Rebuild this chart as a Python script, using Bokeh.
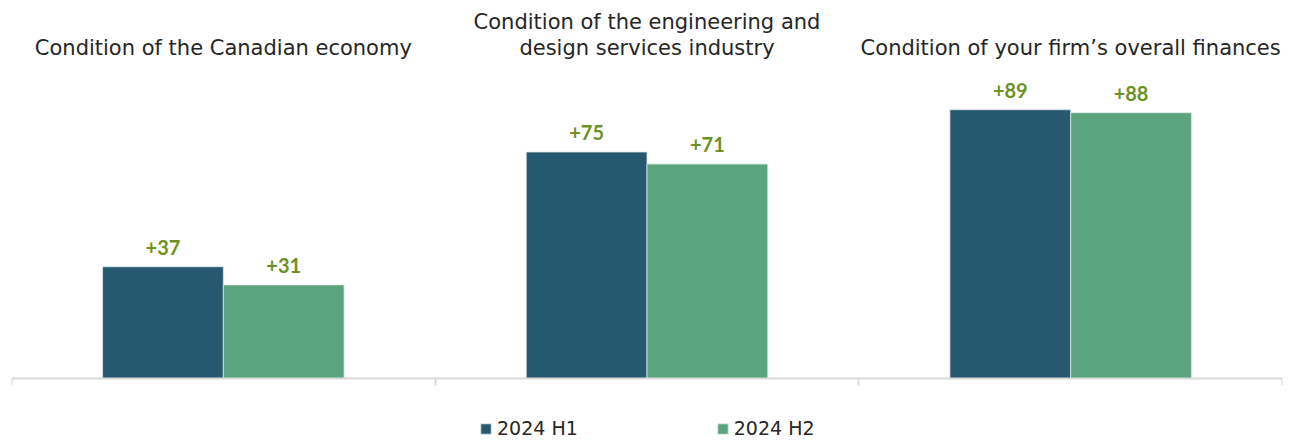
import numpy as np
from bokeh.plotting import figure
from bokeh.models import ColumnDataSource, Range1d, FixedTicker, Legend, LegendItem
from bokeh.core.properties import value
from bokeh.embed import file_html
from bokeh.resources import INLINE

# ---- data ----
categories = [
    "Condition of the Canadian economy",
    "Condition of the engineering and\ndesign services industry",
    "Condition of your firm\u2019s overall finances",
]
series_names = ["2024 H1", "2024 H2"]
h1_values = [37, 75, 89]
h2_values = [31, 71, 88]

# ---- style ----
COL_H1 = "#26596F"
COL_H2 = "#5AA57D"
COL_LABEL = "#6E9126"
COL_TEXT = "#262626"
FONT = "DejaVu Sans"
LABEL_FONT = "Lato"
BAR_W = 0.285
TITLE_Y = 105.3
PX_PER_UNIT = 3.02

idx = np.arange(len(categories))
centers = idx + 0.5

p = figure(width=1291, height=441, output_backend="svg", toolbar_location=None,
           x_range=Range1d(0, len(categories)),
           y_range=Range1d(-63 / PX_PER_UNIT, 378 / PX_PER_UNIT),
           min_border_left=11, min_border_right=9, min_border_top=0, min_border_bottom=0)
p.outline_line_color = None
p.xgrid.visible = False
p.ygrid.visible = False
p.yaxis.visible = False
p.background_fill_color = "white"
p.border_fill_color = "white"

src1 = ColumnDataSource(dict(x=centers - BAR_W / 2, top=h1_values,
                             lab=["+%d" % v for v in h1_values]))
src2 = ColumnDataSource(dict(x=centers + BAR_W / 2, top=h2_values,
                             lab=["+%d" % v for v in h2_values]))

r1 = p.vbar(x="x", top="top", bottom=0, width=BAR_W, source=src1, fill_color=COL_H1,
            line_color="#DDE6EA", line_width=0.8)
r2 = p.vbar(x="x", top="top", bottom=0, width=BAR_W, source=src2, fill_color=COL_H2,
            line_color="#DDE6EA", line_width=0.8)

for s in (src1, src2):
    p.text(x="x", y="top", text="lab", source=s, text_align="center",
           text_baseline="bottom", y_offset=-12, text_color=COL_LABEL,
           text_font=value(LABEL_FONT), text_font_style="bold", text_font_size="20px")

tsrc = ColumnDataSource(dict(x=centers, y=[TITLE_Y] * len(categories), t=categories))
p.text(x="x", y="y", text="t", source=tsrc, text_align="center",
       text_baseline="bottom", text_color=COL_TEXT, text_font=value(FONT),
       text_font_size="21px", text_line_height=1.1)

ax = p.xaxis[0]
ax.fixed_location = 0
ax.ticker = FixedTicker(ticks=list(range(len(categories) + 1)))
ax.major_label_text_font_size = "0px"
ax.major_label_text_color = None
ax.minor_tick_line_color = None
ax.axis_line_color = "#D9D9D9"
ax.axis_line_width = 2
ax.major_tick_line_color = "#D9D9D9"
ax.major_tick_line_width = 2
ax.major_tick_in = 0
ax.major_tick_out = 7
ax.major_label_standoff = 0

legend = Legend(items=[LegendItem(label=series_names[0], renderers=[r1]),
                       LegendItem(label=series_names[1], renderers=[r2])],
                orientation="horizontal", location=(468, 2),
                label_text_font=FONT, label_text_font_size="19px",
                label_text_color=COL_TEXT, glyph_width=13, glyph_height=13,
                label_standoff=5, spacing=138, padding=0, margin=0,
                border_line_color=None, background_fill_color=None,
                background_fill_alpha=0)
p.add_layout(legend, "center")

open("out.html", "w").write(file_html(p, INLINE))
